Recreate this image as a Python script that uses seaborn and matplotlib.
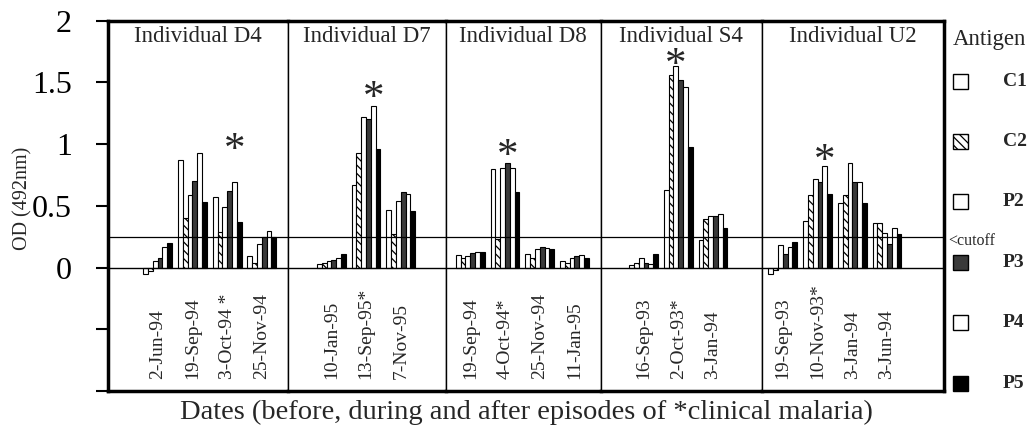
import numpy as np
import pandas as pd
import matplotlib
matplotlib.use("Agg")
import matplotlib.pyplot as plt
from matplotlib.patches import Rectangle
import seaborn as sns

# ---------------- data ----------------
antigens = ["C1", "C2", "P2", "P3", "P4", "P5"]
individuals = ["D4", "D7", "D8", "S4", "U2"]

d4_dates = ["2-Jun-94", "19-Sep-94", "3-Oct-94 *", "25-Nov-94"]
d4_values = [[-0.05, -0.03, 0.05, 0.08, 0.17, 0.20],
             [0.87, 0.40, 0.59, 0.70, 0.93, 0.53],
             [0.57, 0.29, 0.49, 0.62, 0.69, 0.37],
             [0.09, 0.04, 0.19, 0.25, 0.30, 0.25]]

d7_dates = ["10-Jan-95", "13-Sep-95*", "7-Nov-95"]
d7_values = [[0.03, 0.04, 0.05, 0.06, 0.08, 0.11],
             [0.67, 0.93, 1.22, 1.20, 1.31, 0.96],
             [0.47, 0.27, 0.54, 0.61, 0.60, 0.46]]

d8_dates = ["19-Sep-94", "4-Oct-94*", "25-Nov-94", "11-Jan-95"]
d8_values = [[0.10, 0.08, 0.09, 0.12, 0.13, 0.13],
             [0.80, 0.23, 0.81, 0.85, 0.81, 0.61],
             [0.11, 0.08, 0.15, 0.17, 0.16, 0.15],
             [0.05, 0.04, 0.08, 0.09, 0.10, 0.08]]

s4_dates = ["16-Sep-93", "2-Oct-93*", "3-Jan-94"]
s4_values = [[0.02, 0.04, 0.08, 0.04, 0.03, 0.11],
             [0.63, 1.56, 1.63, 1.52, 1.46, 0.98],
             [0.22, 0.39, 0.42, 0.42, 0.43, 0.32]]

u2_dates = ["19-Sep-93", "10-Nov-93*", "3-Jan-94", "3-Jun-94"]
u2_values = [[-0.05, -0.02, 0.18, 0.11, 0.17, 0.21],
             [0.38, 0.59, 0.72, 0.69, 0.82, 0.60],
             [0.52, 0.59, 0.85, 0.69, 0.69, 0.52],
             [0.36, 0.36, 0.28, 0.19, 0.32, 0.27]]

clinical_dates = ["3-Oct-94 *", "13-Sep-95*", "4-Oct-94*", "2-Oct-93*", "10-Nov-93*"]
star_heights = [1.02, 1.44, 0.97, 1.71, 0.93]
cutoff = 0.25

panel_dates = [d4_dates, d7_dates, d8_dates, s4_dates, u2_dates]
panel_values = [d4_values, d7_values, d8_values, s4_values, u2_values]

rows = []
for ind, dates, vals in zip(individuals, panel_dates, panel_values):
    for d, vs in zip(dates, vals):
        for a, v in zip(antigens, vs):
            rows.append({"individual": ind, "date": d, "antigen": a, "od": v})
df = pd.DataFrame(rows)

# ---------------- style ----------------
sns.set_theme(style="white")
plt.rcParams["font.family"] = ["Liberation Serif", "DejaVu Serif"]
plt.rcParams["hatch.linewidth"] = 0.9

face = {"C1": "white", "C2": "white", "P2": "white", "P3": "#3a3a3a", "P4": "white", "P5": "black"}
hatch = {"C1": None, "C2": "\\\\\\\\", "P2": None, "P3": None, "P4": None, "P5": None}
bar_width = 0.83

W, H = 1031, 425
fig = plt.figure(figsize=(W / 100, H / 100), dpi=100)
xlims = [(-1.43, 3.74), (-1.26, 3.29), (-0.71, 3.76), (-1.23, 3.40), (-0.61, 4.64)]
widths = [b - a for a, b in xlims]
gs = fig.add_gridspec(1, 5, left=108 / W, right=944 / W, top=1 - 20.7 / H,
                      bottom=1 - 391 / H, wspace=0, width_ratios=widths)

axes = []
for i, (ind, dates, vals) in enumerate(zip(individuals, panel_dates, panel_values)):
    ax = fig.add_subplot(gs[0, i])
    axes.append(ax)
    sub = df[df["individual"] == ind]
    sns.barplot(data=sub, x="date", y="od", hue="antigen", order=dates,
                hue_order=antigens, palette=[face[a] for a in antigens],
                saturation=1, edgecolor="black", linewidth=0.8, width=bar_width,
                errorbar=None, legend=False, ax=ax)
    for cont, a in zip(ax.containers, antigens):
        for bar in cont:
            bar.set_facecolor(face[a])
            bar.set_edgecolor("black")
            if hatch[a]:
                bar.set_hatch(hatch[a])
    ax.set_xlim(*xlims[i])
    ax.set_ylim(-1, 2)
    ax.set_xlabel("")
    ax.set_ylabel("")
    ax.set_xticks([])
    ax.axhline(0, color="black", lw=1.0, zorder=3)
    ax.axhline(cutoff, color="black", lw=0.9, zorder=3)
    ax.text(np.mean(xlims[i]), 1.87, f"Individual {ind}", ha="center",
            va="center", fontsize=16.5)
    for j, d in enumerate(dates):
        ax.text(j, -0.905, d, rotation=90, ha="center", va="bottom", fontsize=14)
        if d in clinical_dates:
            k = clinical_dates.index(d)
            top = int(np.argmax(vals[j]))
            xs = j + (top - (len(antigens) - 1) / 2) * bar_width / len(antigens)
            ax.text(xs, star_heights[k] - 0.075, "*", ha="center", va="center",
                    fontsize=31)
    for s in ax.spines.values():
        s.set_color("black")
        s.set_linewidth(1.0)
    ax.spines["top"].set_linewidth(2.5)
    ax.spines["bottom"].set_linewidth(2.5)
    if i == 0:
        ax.spines["left"].set_linewidth(2.5)
        ax.set_yticks([-1, -0.5, 0, 0.5, 1, 1.5, 2])
        ax.set_yticklabels(["", "", "0", "0.5", "1", "1.5", "2"], fontsize=23)
        ax.tick_params(axis="y", direction="out", length=9, width=1.5, pad=17,
                       left=True, colors="black")
    else:
        ax.tick_params(axis="y", left=False, labelleft=False)
    if i == 4:
        ax.spines["right"].set_linewidth(2.5)

# axis titles
fig.text(526 / W, 1 - 412 / H, "Dates (before, during and after episodes of *clinical malaria)",
         ha="center", va="center", fontsize=20.5)
fig.text(23 / W, 1 - 198 / H, "OD (492nm)", rotation=90, ha="center", va="center",
         fontsize=14.5)

# legend
fig.text(953 / W, 1 - 40 / H, "Antigen", ha="left", va="center", fontsize=16.5)
for i, a in enumerate(antigens):
    yc = 81 + 60.4 * i
    r = Rectangle((953 / W, 1 - (yc + 7.5) / H), 15 / W, 15 / H,
                  transform=fig.transFigure, facecolor=face[a], edgecolor="black",
                  linewidth=1.0, hatch=hatch[a])
    fig.add_artist(r)
    fig.text(1003 / W, 1 - yc / H, a, ha="left", va="center", fontsize=14,
             fontweight="bold")
fig.text(948 / W, 1 - 241 / H, "<cutoff", ha="left", va="center", fontsize=11.5)

fig.savefig("out.png", dpi=100)
